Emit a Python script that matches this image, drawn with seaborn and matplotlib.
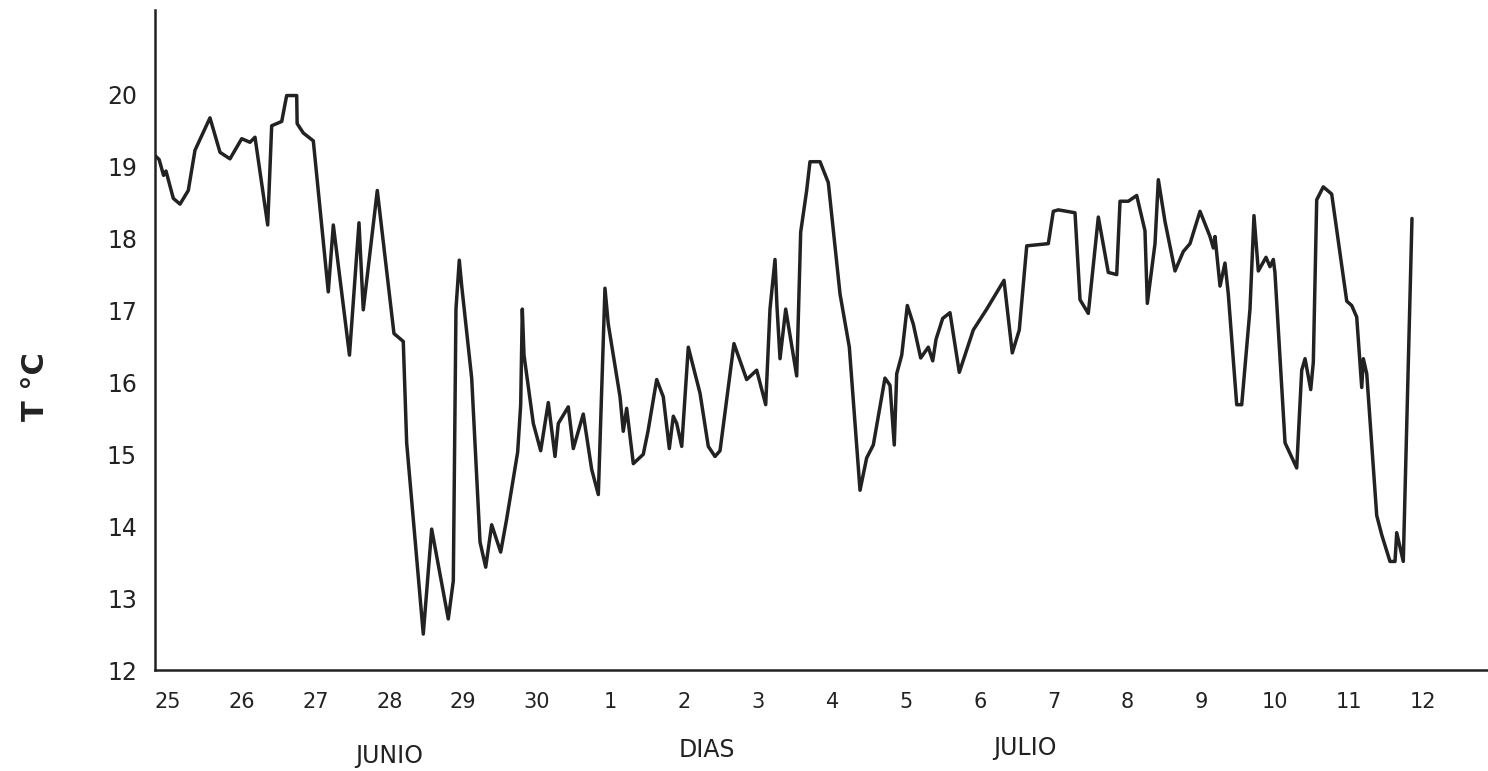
import matplotlib
matplotlib.use("Agg")
import matplotlib.pyplot as plt
import seaborn as sns
import pandas as pd

# Days counted from 25 June (0 = 25 junio, 6 = 1 julio, ...)
dias = [
    -0.17, -0.12, -0.06, -0.027, 0.072, 0.163, 0.275, 0.366, 0.569, 0.705,
    0.840, 0.999, 1.111, 1.179, 1.351, 1.405, 1.541, 1.608, 1.744, 1.750,
    1.833, 1.969, 2.172, 2.240, 2.459, 2.588, 2.646, 2.692, 2.836, 3.062,
    3.188, 3.234, 3.324, 3.459, 3.573, 3.798, 3.866, 3.902, 3.947, 3.980,
    4.115, 4.228, 4.305, 4.386, 4.508, 4.589, 4.738, 4.779, 4.801, 4.824,
    4.950, 5.050, 5.153, 5.244, 5.289, 5.424, 5.492, 5.627, 5.741, 5.831,
    5.921, 5.966, 6.125, 6.169, 6.215, 6.305, 6.440, 6.504, 6.622, 6.711,
    6.793, 6.847, 6.893, 6.961, 7.050, 7.209, 7.321, 7.412, 7.480, 7.669,
    7.841, 7.977, 8.099, 8.157, 8.225, 8.252, 8.293, 8.370, 8.519, 8.573,
    8.654, 8.699, 8.835, 8.947, 9.106, 9.232, 9.377, 9.467, 9.557, 9.715,
    9.783, 9.841, 9.874, 9.942, 10.018, 10.099, 10.199, 10.302, 10.362, 10.407,
    10.497, 10.596, 10.722, 10.912, 11.094, 11.328, 11.440, 11.535, 11.636, 11.928,
    11.996, 12.064, 12.290, 12.358, 12.470, 12.606, 12.741, 12.855, 12.900, 13.012,
    13.126, 13.238, 13.270, 13.374, 13.419, 13.509, 13.645, 13.757, 13.848, 13.984,
    14.119, 14.164, 14.187, 14.255, 14.322, 14.367, 14.481, 14.549, 14.661, 14.715,
    14.774, 14.878, 14.932, 14.977, 14.999, 15.136, 15.294, 15.362, 15.407, 15.484,
    15.519, 15.565, 15.654, 15.768, 15.972, 16.039, 16.107, 16.175, 16.197, 16.243,
    16.378, 16.446, 16.558, 16.626, 16.649, 16.738, 16.856,
]
temperatura = [
    19.15, 19.10, 18.88, 18.94, 18.56, 18.48, 18.67, 19.23, 19.68, 19.20,
    19.11, 19.39, 19.34, 19.41, 18.19, 19.57, 19.63, 19.99, 19.99, 19.60,
    19.47, 19.36, 17.26, 18.19, 16.38, 18.22, 17.01, 17.41, 18.67, 16.68,
    16.57, 15.16, 14.10, 12.50, 13.96, 12.71, 13.24, 17.02, 17.70, 17.34,
    16.06, 13.78, 13.43, 14.02, 13.64, 14.10, 15.03, 15.69, 17.02, 16.38,
    15.43, 15.05, 15.72, 14.97, 15.43, 15.66, 15.08, 15.56, 14.79, 14.44,
    17.31, 16.81, 15.80, 15.32, 15.64, 14.87, 15.00, 15.32, 16.04, 15.80,
    15.08, 15.53, 15.43, 15.11, 16.49, 15.85, 15.11, 14.97, 15.05, 16.54,
    16.04, 16.17, 15.69, 17.02, 17.71, 17.05, 16.33, 17.02, 16.09, 18.09,
    18.67, 19.07, 19.07, 18.78, 17.23, 16.49, 14.50, 14.95, 15.13, 16.06,
    15.96, 15.13, 16.12, 16.38, 17.07, 16.81, 16.34, 16.49, 16.30, 16.60,
    16.89, 16.97, 16.14, 16.73, 17.02, 17.42, 16.41, 16.73, 17.90, 17.93,
    18.38, 18.40, 18.36, 17.15, 16.96, 18.30, 17.53, 17.50, 18.52, 18.52,
    18.60, 18.11, 17.10, 17.93, 18.82, 18.24, 17.55, 17.82, 17.93, 18.38,
    18.03, 17.87, 18.03, 17.34, 17.66, 17.23, 15.69, 15.69, 17.02, 18.32,
    17.55, 17.74, 17.61, 17.71, 17.53, 15.16, 14.81, 16.17, 16.33, 15.90,
    16.28, 18.54, 18.72, 18.62, 17.13, 17.07, 16.91, 15.93, 16.33, 16.12,
    14.15, 13.88, 13.51, 13.51, 13.91, 13.51, 18.28,
]
x_ticks = list(range(18))
x_labels = ["25", "26", "27", "28", "29", "30", "1", "2", "3", "4",
            "5", "6", "7", "8", "9", "10", "11", "12"]
y_ticks = [12, 13, 14, 15, 16, 17, 18, 19, 20]
y_labels = ["12", "13", "14", "15", "16", "17", "18", "19", "20"]

df = pd.DataFrame({"dia": dias, "T": temperatura})

sns.set_theme(style="white")
plt.rcParams["font.family"] = ["DejaVu Sans"]

fig = plt.figure(figsize=(14.88, 7.71), dpi=100)
ax = fig.add_axes([155 / 1488, 101 / 771, 1333 / 1488, 660 / 771])

sns.lineplot(data=df, x="dia", y="T", ax=ax, color="#222222", linewidth=2.5,
             sort=False, estimator=None)

ax.set_xlim(-0.176, 17.886)
ax.set_ylim(12, 21.18)
ax.set_xticks(x_ticks)
ax.set_xticklabels(x_labels, fontsize=15, color="#222222")
ax.set_yticks(y_ticks)
ax.set_yticklabels(y_labels, fontsize=17, color="#222222")
ax.tick_params(axis="x", direction="out", length=4, width=1, pad=12, colors="#222222")
ax.tick_params(axis="y", direction="out", length=9, width=1.2, pad=4, colors="#222222")

for side in ["top", "right"]:
    ax.spines[side].set_visible(False)
for side in ["left", "bottom"]:
    ax.spines[side].set_color("#222222")
    ax.spines[side].set_linewidth(1.8)

ax.set_xlabel("")
ax.set_ylabel("T °C", fontsize=22, fontweight="bold", color="#222222")
ax.yaxis.set_label_coords(-0.079, 0.43)

fig.text(389 / 1488, 1 - 756 / 771, "JUNIO", ha="center", va="center",
         fontsize=17, color="#222222")
fig.text(707 / 1488, 1 - 750 / 771, "DIAS", ha="center", va="center",
         fontsize=17, color="#222222")
fig.text(1025 / 1488, 1 - 748 / 771, "JULIO", ha="center", va="center",
         fontsize=17, color="#222222")

fig.savefig("out.png", dpi=100, facecolor="white")
